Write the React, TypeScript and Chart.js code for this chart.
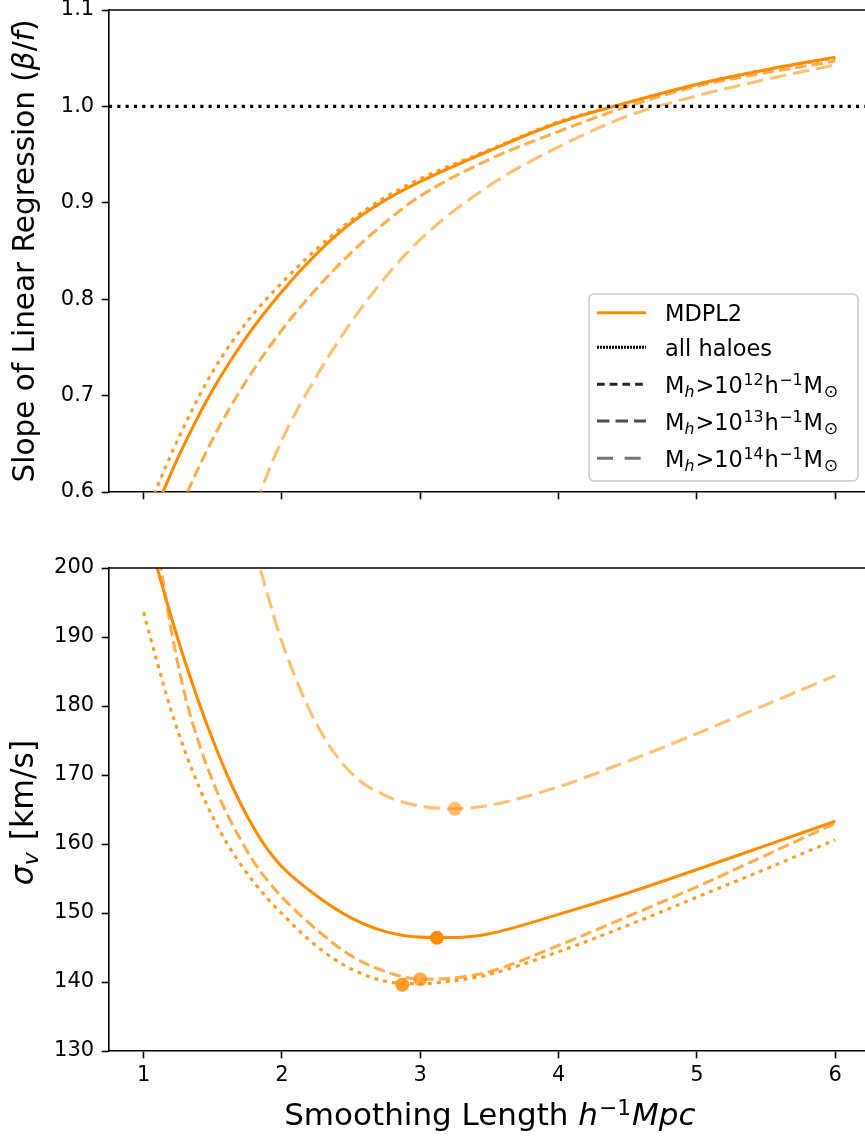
import React, { useEffect, useRef } from "react";
import { Chart, registerables } from "chart.js";

Chart.register(...registerables);

// ---------- data ----------
const xTicks = [1, 2, 3, 4, 5, 6];
const topYTicks = [0.6, 0.7, 0.8, 0.9, 1.0, 1.1];
const bottomYTicks = [130, 140, 150, 160, 170, 180, 190, 200];
const xMin = 0.75;
const xMax = 6.215;
const refLineValue = 1.0;

// top panel: slope of linear regression
const topX = [1.0, 1.25, 1.5, 1.75, 2.0, 2.25, 2.5, 2.75, 3.0, 3.5, 4.0, 4.5, 5.0, 5.5, 6.0];
const topAll = [0.552, 0.636, 0.706, 0.762, 0.808, 0.847, 0.879, 0.903, 0.922, 0.954, 0.983, 1.004, 1.023, 1.038, 1.051];
const top12 = [0.572, 0.655, 0.725, 0.777, 0.817, 0.852, 0.882, 0.906, 0.925, 0.955, 0.984, 1.004, 1.023, 1.038, 1.050];
const top13 = [0.488, 0.578, 0.655, 0.717, 0.768, 0.811, 0.848, 0.880, 0.907, 0.945, 0.974, 1.000, 1.021, 1.035, 1.047];
const top14 = [0.24, 0.36, 0.47, 0.565, 0.654, 0.720, 0.776, 0.823, 0.862, 0.918, 0.958, 0.990, 1.011, 1.028, 1.043];

// bottom panel: sigma_v
const botX = [1.0, 1.1, 1.2, 1.3, 1.4, 1.5, 1.6, 1.7, 1.8, 1.9, 2.0, 2.25, 2.5, 2.75, 3.0, 3.25, 3.5, 4.0, 4.5, 5.0, 5.5, 6.0];
const botAll = [207.0, 199.9, 192.9, 186.4, 180.5, 175.1, 170.2, 165.9, 162.2, 159.1, 156.7, 152.5, 149.3, 147.3, 146.5, 146.45, 147.0, 149.8, 152.9, 156.3, 159.8, 163.3];
const bot12 = [193.6, 186.2, 179.3, 173.4, 168.3, 163.9, 160.2, 157.1, 154.4, 152.0, 149.9, 145.2, 141.9, 140.1, 139.75, 140.2, 141.1, 144.4, 148.2, 152.3, 156.4, 160.6];
const bot13 = [218.0, 203.5, 191.0, 181.5, 174.6, 169.1, 164.5, 160.7, 157.3, 154.6, 152.3, 147.6, 143.8, 141.5, 140.4, 140.6, 141.5, 145.3, 149.5, 153.8, 158.4, 163.0];
const bot14 = [290, 275, 261, 249, 238, 228, 219, 210.8, 203, 195.9, 189.3, 177.4, 170.3, 167.0, 165.5, 165.1, 165.6, 168.3, 172.0, 176.0, 180.2, 184.4];

// minima markers [x, y]
const minAll = [3.12, 146.4];
const min12 = [2.87, 139.6];
const min13 = [3.0, 140.4];
const min14 = [3.25, 165.1];

// ---------- styles ----------
const FONT = '"DejaVu Sans"';
const TICK_SIZE = 21;
const LABEL_SIZE = 29.5;
const XLABEL_SIZE = 31;
const SIGMA_SIZE = 31.5;
const LEGEND_SIZE = 22.5;
const ORANGE = [255, 140, 0];
const A_ALL = 1;
const A12 = 0.85;
const A13 = 0.7;
const A14 = 0.55;
const LW = 3.1;
const DASH_ALL: number[] = [];
const DASH12 = [4, 5];
const DASH13 = [11.6, 5];
const DASH14 = [16.5, 7];
const DASH_REF = [3.1, 5.2];

const rgba = (c: number[], a: number) => `rgba(${c[0]},${c[1]},${c[2]},${a})`;

type Part = { t: string; size: number; italic?: boolean; dy?: number; gap?: number };
const fontOf = (p: Part) => `${p.italic ? "italic " : ""}${p.size}px ${FONT}`;

function measureParts(ctx: CanvasRenderingContext2D, parts: Part[]) {
  let w = 0;
  for (const p of parts) {
    ctx.font = fontOf(p);
    w += ctx.measureText(p.t).width + (p.gap || 0);
  }
  return w;
}
function drawParts(ctx: CanvasRenderingContext2D, parts: Part[], x: number, y: number, align: "left" | "center") {
  let cx = align === "center" ? x - measureParts(ctx, parts) / 2 : x;
  ctx.textAlign = "left";
  ctx.textBaseline = "alphabetic";
  ctx.fillStyle = "#000";
  for (const p of parts) {
    ctx.font = fontOf(p);
    ctx.fillText(p.t, cx, y + (p.dy || 0));
    cx += ctx.measureText(p.t).width + (p.gap || 0);
  }
}

const S = LEGEND_SIZE;
const SS = LEGEND_SIZE * 0.7;
const massLabel = (exp: string): Part[] => [
  { t: "M", size: S },
  { t: "h", size: SS, italic: true, dy: 4, gap: 1 },
  { t: ">10", size: S, gap: 0.5 },
  { t: exp, size: SS, dy: -7.5, gap: 1 },
  { t: "h", size: S, gap: 0.5 },
  { t: "\u22121", size: SS, dy: -7.5, gap: 1 },
  { t: "M", size: S, gap: 1 },
  { t: "\u2299", size: SS * 1.1, dy: 4 },
];
const legendTexts: Part[][] = [
  [{ t: "MDPL2", size: S }],
  [{ t: "all haloes", size: S }],
  massLabel("12"),
  massLabel("13"),
  massLabel("14"),
];
const legendStyles = [
  { color: rgba(ORANGE, 1), dash: [] as number[] },
  { color: "#000", dash: [2, 1] },
  { color: rgba([0, 0, 0], A12), dash: [7.7, 5] },
  { color: rgba([0, 0, 0], A13), dash: [12.5, 6] },
  { color: rgba([0, 0, 0], A14), dash: [16, 11.7] },
];

const topYTitle: Part[] = [
  { t: "Slope of Linear Regression ", size: LABEL_SIZE },
  { t: "(", size: LABEL_SIZE },
  { t: "\u03b2", size: LABEL_SIZE, italic: true },
  { t: "/", size: LABEL_SIZE },
  { t: "f", size: LABEL_SIZE, italic: true },
  { t: ")", size: LABEL_SIZE },
];
const bottomYTitle: Part[] = [
  { t: "\u03c3", size: SIGMA_SIZE, italic: true },
  { t: "v", size: SIGMA_SIZE * 0.7, italic: true, dy: 5, gap: 2 },
  { t: " [km/s]", size: SIGMA_SIZE },
];
const xTitle: Part[] = [
  { t: "Smoothing Length ", size: XLABEL_SIZE },
  { t: "h", size: XLABEL_SIZE, italic: true, gap: 1 },
  { t: "\u22121", size: XLABEL_SIZE * 0.7, dy: -10.5, gap: 1 },
  { t: "Mpc", size: XLABEL_SIZE, italic: true },
];

function pts(xs: number[], ys: number[]) {
  return xs.map((x, i) => ({ x, y: ys[i] }));
}

function lineDs(xs: number[], ys: number[], alpha: number, dash: number[], order = 2) {
  return {
    type: "line",
    data: pts(xs, ys),
    borderColor: rgba(ORANGE, alpha),
    borderWidth: LW,
    borderDash: dash,
    pointRadius: 0,
    cubicInterpolationMode: "monotone",
    fill: false,
    clip: 0,
    order,
  };
}
function markerDs(p: number[], alpha: number) {
  return {
    type: "line",
    data: [{ x: p[0], y: p[1] }],
    showLine: false,
    pointRadius: 7,
    pointBackgroundColor: rgba(ORANGE, alpha),
    pointBorderWidth: 0,
    clip: 0,
    order: 0,
  };
}

function scales(yMin: number, yMax: number, yTicks: number[], yFmt: (v: number) => string, xHeight: number, xLabels: boolean) {
  return {
    x: {
      type: "linear",
      min: xMin,
      max: xMax,
      afterBuildTicks: (s: any) => {
        s.ticks = xTicks.map((v) => ({ value: v }));
      },
      ticks: {
        display: xLabels,
        font: { family: FONT, size: TICK_SIZE },
        color: "#000",
        padding: 5,
        maxRotation: 0,
        autoSkip: false,
        callback: (v: any) => String(v),
      },
      grid: { drawOnChartArea: false, drawTicks: true, tickLength: 7.3, tickColor: "#000", tickWidth: 1.6 },
      border: { display: true, color: "#000", width: 1.6 },
      afterFit: (s: any) => {
        s.height = xHeight;
        s.paddingLeft = 0;
        s.paddingRight = 0;
      },
    },
    y: {
      type: "linear",
      min: yMin,
      max: yMax,
      afterBuildTicks: (s: any) => {
        s.ticks = yTicks.map((v) => ({ value: v }));
      },
      ticks: {
        font: { family: FONT, size: TICK_SIZE },
        color: "#000",
        padding: 7.5,
        autoSkip: false,
        callback: (v: any) => yFmt(Number(v)),
      },
      grid: { drawOnChartArea: false, drawTicks: true, tickLength: 7.3, tickColor: "#000", tickWidth: 1.6 },
      border: { display: true, color: "#000", width: 1.6 },
      afterFit: (s: any) => {
        s.width = 109;
        s.paddingTop = 0;
        s.paddingBottom = 0;
      },
    },
  };
}

function decorPlugin(kind: "top" | "bottom") {
  return {
    id: "decor-" + kind,
    afterDraw(chart: any) {
      const ctx: CanvasRenderingContext2D = chart.ctx;
      const a = chart.chartArea;
      ctx.save();
      // top spine
      ctx.strokeStyle = "#000";
      ctx.lineWidth = 1.6;
      ctx.setLineDash([]);
      ctx.beginPath();
      ctx.moveTo(a.left - 0.8, a.top);
      ctx.lineTo(a.right, a.top);
      ctx.stroke();

      // y title
      ctx.save();
      const cy = (a.top + a.bottom) / 2;
      ctx.translate(kind === "top" ? 34 : 33, kind === "top" ? cy : cy + 3);
      ctx.rotate(-Math.PI / 2);
      drawParts(ctx, kind === "top" ? topYTitle : bottomYTitle, 0, 0, "center");
      ctx.restore();

      if (kind === "bottom") {
        drawParts(ctx, xTitle, 489.8, 595, "center");
      } else {
        // legend
        const bx = 589, by = 294, bw = 269, bh = 187;
        ctx.beginPath();
        (ctx as any).roundRect(bx, by, bw, bh, 5);
        ctx.fillStyle = "rgba(255,255,255,0.8)";
        ctx.fill();
        ctx.strokeStyle = "#cccccc";
        ctx.lineWidth = 1.6;
        ctx.stroke();
        const rows = [312.7, 347.3, 384.3, 421, 458.3];
        rows.forEach((ry, i) => {
          const st = legendStyles[i];
          ctx.strokeStyle = st.color;
          ctx.lineWidth = LW;
          ctx.setLineDash(st.dash);
          ctx.beginPath();
          ctx.moveTo(597, ry);
          ctx.lineTo(646, ry);
          ctx.stroke();
          ctx.setLineDash([]);
          drawParts(ctx, legendTexts[i], 665, ry + 8.5, "left");
        });
      }
      ctx.restore();
    },
  };
}

export default function App() {
  const topRef = useRef<HTMLCanvasElement>(null);
  const botRef = useRef<HTMLCanvasElement>(null);

  useEffect(() => {
    Chart.defaults.font.family = FONT;
    const top = new Chart(topRef.current as HTMLCanvasElement, {
      type: "line",
      data: {
        datasets: [
          lineDs(topX, topAll, A_ALL, DASH_ALL),
          lineDs(topX, top12, A12, DASH12),
          lineDs(topX, top13, A13, DASH13),
          lineDs(topX, top14, A14, DASH14),
          {
            type: "line",
            data: [
              { x: xMin, y: refLineValue },
              { x: xMax, y: refLineValue },
            ],
            borderColor: "#000",
            borderWidth: LW,
            borderDash: DASH_REF,
            pointRadius: 0,
            fill: false,
            clip: 0,
            order: 1,
          },
        ] as any,
      },
      options: {
        animation: false,
        responsive: false,
        events: [],
        layout: { autoPadding: false, padding: { top: 10, left: 0, right: 0, bottom: 0 } },
        plugins: { legend: { display: false }, tooltip: { enabled: false }, title: { display: false } },
        scales: scales(0.6, 1.1, topYTicks, (v) => v.toFixed(1), 38, false) as any,
      } as any,
      plugins: [decorPlugin("top")],
    });
    const bot = new Chart(botRef.current as HTMLCanvasElement, {
      type: "line",
      data: {
        datasets: [
          lineDs(botX, botAll, A_ALL, DASH_ALL),
          lineDs(botX, bot12, A12, DASH12),
          lineDs(botX, bot13, A13, DASH13),
          lineDs(botX, bot14, A14, DASH14),
          markerDs(minAll, A_ALL),
          markerDs(min12, A12),
          markerDs(min13, A13),
          markerDs(min14, A14),
        ] as any,
      },
      options: {
        animation: false,
        responsive: false,
        events: [],
        layout: { autoPadding: false, padding: { top: 38, left: 0, right: 0, bottom: 0 } },
        plugins: { legend: { display: false }, tooltip: { enabled: false }, title: { display: false } },
        scales: scales(130, 200, bottomYTicks, (v) => String(Math.round(v)), 86, true) as any,
      } as any,
      plugins: [decorPlugin("bottom")],
    });
    return () => {
      top.destroy();
      bot.destroy();
    };
  }, []);

  return (
    <div style={{ position: "absolute", left: 0, top: 0, width: 865, height: 1137, background: "#fff" }}>
      <canvas ref={topRef} width={865} height={530} style={{ position: "absolute", left: 0, top: 0 }} />
      <canvas ref={botRef} width={865} height={607} style={{ position: "absolute", left: 0, top: 530 }} />
    </div>
  );
}
